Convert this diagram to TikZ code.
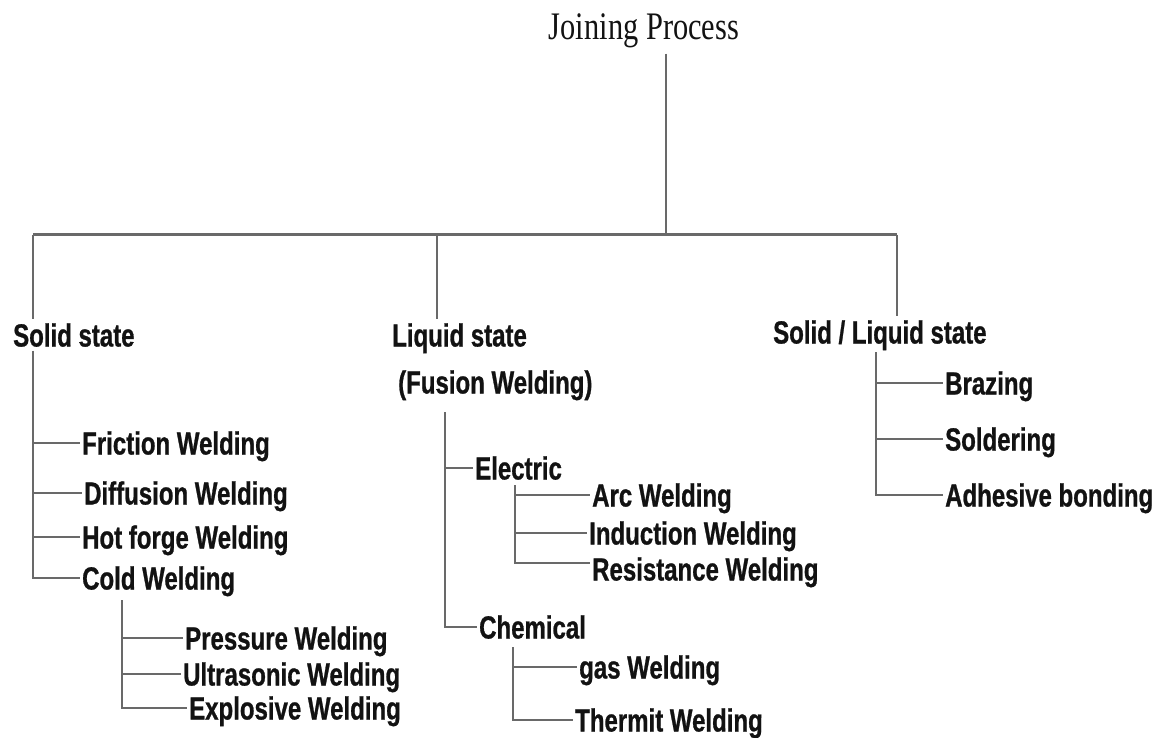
\documentclass[tikz,border=0pt]{standalone}
\usepackage{fontspec}
\newfontfamily\lblfont[FakeStretch=0.75, FakeBold=0.8]{Liberation Sans}
\newfontfamily\ttlfont[FakeStretch=0.78]{Liberation Serif}
\usepackage{tikz}
\usetikzlibrary{positioning, calc}
\definecolor{line-gray}{RGB}{105,105,105}
\definecolor{text-dark}{RGB}{18,18,18}

\begin{document}
\begin{tikzpicture}[
    x=1pt, y=-1pt,
    ttl/.style={anchor=base, inner sep=5pt, text=text-dark, font=\ttlfont\fontsize{39}{44}\selectfont},
    lbl/.style={anchor=west, inner xsep=2pt, inner ysep=4pt, text height=23pt, text depth=0pt, text=text-dark, font=\lblfont\bfseries\fontsize{32}{36}\selectfont},
    link/.style={draw=line-gray, line width=1.8pt},
    bar/.style={draw=line-gray, line width=3pt}
]
    \useasboundingbox (0,0) rectangle (1162,738);

    \node[ttl] (join) at (644,40) {Joining Process};

    % Main groups
    \node[lbl] (solid)  at (11,335)  {Solid state};
    \node[lbl] (liquid) at (390,335) {Liquid state};
    \node[lbl] (fusion) at (396,382) {(Fusion Welding)};
    \node[lbl] (solliq) at (771,332) {Solid / Liquid state};

    % Solid state
    \node[lbl] (friction)   at (80,443)  {Friction Welding};
    \node[lbl] (diffusion)  at (82,493)  {Diffusion Welding};
    \node[lbl] (hotforge)   at (80,537)  {Hot forge Welding};
    \node[lbl] (cold)       at (80,578)  {Cold Welding};
    \node[lbl] (pressure)   at (183,638) {Pressure Welding};
    \node[lbl] (ultrasonic) at (181,674) {Ultrasonic Welding};
    \node[lbl] (explosive)  at (187,708) {Explosive Welding};

    % Liquid state
    \node[lbl] (electric)   at (473,468) {Electric};
    \node[lbl] (arc)        at (590,495) {Arc Welding};
    \node[lbl] (induction)  at (587,533) {Induction Welding};
    \node[lbl] (resistance) at (590,569) {Resistance Welding};
    \node[lbl] (chemical)   at (477,627) {Chemical};
    \node[lbl] (gas)        at (577,667) {gas Welding};
    \node[lbl] (thermit)    at (573,720) {Thermit Welding};

    % Solid / Liquid state
    \node[lbl] (brazing)   at (943,383) {Brazing};
    \node[lbl] (soldering) at (943,439) {Soldering};
    \node[lbl] (adhesive)  at (943,495) {Adhesive bonding};

    % bus points
    \coordinate (hub)  at (666,235);
    \coordinate (sbus) at (33,235);
    \coordinate (lq)   at (437,235);
    \coordinate (barR) at (897,235);
    \coordinate (kbus) at (122,600);
    \coordinate (lbus) at (445,412);
    \coordinate (ebus) at (515,485);
    \coordinate (cbus) at (513,647);
    \coordinate (bbus) at (876,352);

    \draw[link] (join.south -| hub) -- (hub);
    \draw[bar] (sbus) -- (barR);
    \draw[link] (sbus) -- (sbus |- solid.north);
    \draw[link] (lq) -- (lq |- liquid.north);
    \draw[link] (barR) -- (barR |- solliq.north);

    \draw[link] (sbus |- solid.south) |- (cold.west);
    \foreach \n in {friction, diffusion, hotforge}
        \draw[link] (sbus |- \n.west) -- (\n.west);
    \draw[link] (kbus) |- (explosive.west);
    \foreach \n in {pressure, ultrasonic}
        \draw[link] (kbus |- \n.west) -- (\n.west);

    \draw[link] (lbus) |- (chemical.west);
    \draw[link] (lbus |- electric.west) -- (electric.west);
    \draw[link] (ebus) |- ([yshift=6pt]resistance.west);
    \foreach \n in {arc, induction}
        \draw[link] (ebus |- \n.west) -- (\n.west);
    \draw[link] (cbus) |- (thermit.west);
    \draw[link] (cbus |- gas.west) -- (gas.west);

    \draw[link] (bbus) |- (adhesive.west);
    \foreach \n in {brazing, soldering}
        \draw[link] (bbus |- \n.west) -- (\n.west);
\end{tikzpicture}
\end{document}
